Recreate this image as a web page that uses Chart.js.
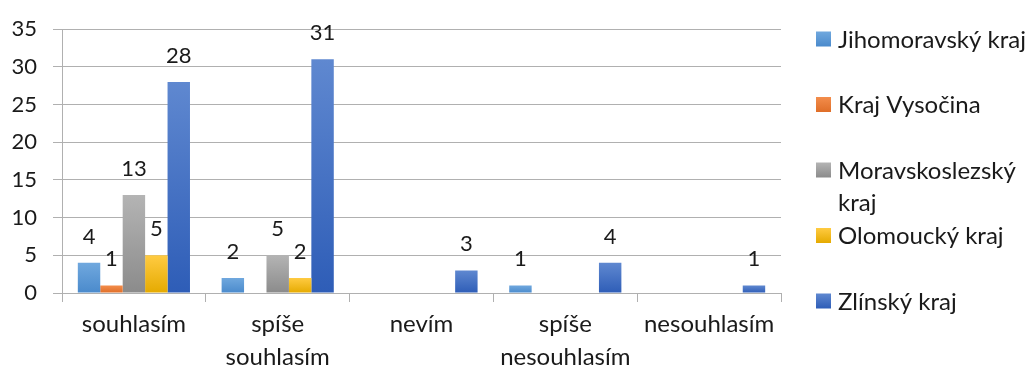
<!DOCTYPE html>
<html lang="cs">
<head>
<meta charset="utf-8">
<script src="https://cdn.jsdelivr.net/npm/chart.js@4/dist/chart.umd.min.js"></script>
<style>
  html, body { margin: 0; padding: 0; background: #fff; }
  #wrap { position: relative; width: 1031px; height: 369px; }
</style>
</head>
<body>
<div id="wrap"><canvas id="c" width="1031" height="369"></canvas></div>
<script>
// Odpovědi (kategorie na ose x)
const categories = [
  "souhlasím",
  ["spíše", "souhlasím"],
  "nevím",
  ["spíše", "nesouhlasím"],
  "nesouhlasím"
];

// Počty odpovědí podle krajů
const jihomoravsky    = [4, 2, 0, 1, 0];
const vysocina        = [1, 0, 0, 0, 0];
const moravskoslezsky = [13, 5, 0, 0, 0];
const olomoucky       = [5, 2, 0, 0, 0];
const zlinsky         = [28, 31, 3, 4, 1];

const seriesNames = [
  "Jihomoravský kraj",
  "Kraj Vysočina",
  "Moravskoslezský kraj",
  "Olomoucký kraj",
  "Zlínský kraj"
];
const seriesValues = [jihomoravsky, vysocina, moravskoslezsky, olomoucky, zlinsky];

// Barevné přechody sloupců (nahoře světlejší, dole tmavší)
const gradStops = [
  ["#70a8de", "#4a8acc"],
  ["#f38d4c", "#df6e28"],
  ["#b4b4b4", "#8b8b8b"],
  ["#ffcb42", "#e5aa00"],
  ["#5f88d0", "#2e5db7"]
];

const yTicks = { min: 0, max: 35, step: 5 };

const FONT = "Lato, 'Liberation Sans', sans-serif";
const TEXT = "#1a1a1a";
const GRID = "#b0b0b0";
const NUM_SIZE = 22;
const TXT_SIZE = 24;

function barGradient(ctx, i) {
  const chart = ctx.chart;
  const y = chart.scales && chart.scales.y;
  if (!y || ctx.type !== "data") return gradStops[i][1];
  const v = ctx.raw || 0;
  const top = y.getPixelForValue(v);
  const base = y.getPixelForValue(0);
  if (!isFinite(top) || !isFinite(base)) return gradStops[i][1];
  const g = chart.ctx.createLinearGradient(0, Math.min(top, base - 1), 0, base);
  g.addColorStop(0, gradStops[i][0]);
  g.addColorStop(1, gradStops[i][1]);
  return g;
}

const datasets = seriesNames.map((name, i) => ({
  label: name,
  data: seriesValues[i],
  backgroundColor: (ctx) => barGradient(ctx, i),
  borderWidth: 0,
  categoryPercentage: 0.78,
  barPercentage: 1.0
}));

// Hodnoty nad sloupci (nulové se nevypisují)
const valueLabels = {
  id: "valueLabels",
  afterDatasetsDraw(chart) {
    const ctx = chart.ctx;
    ctx.save();
    ctx.font = NUM_SIZE + "px " + FONT;
    ctx.fillStyle = TEXT;
    ctx.textAlign = "center";
    ctx.textBaseline = "alphabetic";
    chart.data.datasets.forEach((ds, di) => {
      const meta = chart.getDatasetMeta(di);
      meta.data.forEach((bar, idx) => {
        const v = ds.data[idx];
        if (!v) return;
        ctx.fillText(String(v), bar.x, bar.y - 19);
      });
    });
    ctx.restore();
  }
};

// Legenda vpravo se zalamováním dlouhých názvů
const sideLegend = {
  id: "sideLegend",
  afterDraw(chart) {
    const ctx = chart.ctx;
    const boxX = 816, box = 15, textX = 838, maxW = 192;
    const y0 = 39, step = 65.5, lineH = 32;
    ctx.save();
    ctx.font = TXT_SIZE + "px " + FONT;
    ctx.textAlign = "left";
    ctx.textBaseline = "middle";
    chart.data.datasets.forEach((ds, i) => {
      const cy = y0 + i * step;
      const g = ctx.createLinearGradient(0, cy - box / 2, 0, cy + box / 2);
      g.addColorStop(0, gradStops[i][0]);
      g.addColorStop(1, gradStops[i][1]);
      ctx.fillStyle = g;
      ctx.fillRect(boxX, cy - box / 2, box, box);
      // zalomení textu podle šířky
      const words = ds.label.split(" ");
      const lines = [];
      let cur = "";
      words.forEach(w => {
        const t = cur ? cur + " " + w : w;
        if (cur && ctx.measureText(t).width > maxW) { lines.push(cur); cur = w; }
        else cur = t;
      });
      if (cur) lines.push(cur);
      ctx.fillStyle = TEXT;
      lines.forEach((ln, k) => ctx.fillText(ln, textX, cy + 1 + k * lineH));
    });
    ctx.restore();
  }
};

new Chart(document.getElementById("c"), {
  type: "bar",
  data: { labels: categories, datasets },
  options: {
    responsive: false,
    animation: false,
    layout: { padding: { top: 26, right: 250, left: 0, bottom: 0 } },
    plugins: {
      legend: { display: false },
      tooltip: { enabled: false }
    },
    scales: {
      x: {
        afterFit: (s) => { s.height = 76; },
        grid: {
          offset: true,
          drawOnChartArea: false,
          drawTicks: true,
          tickLength: 9,
          color: GRID,
          lineWidth: 1
        },
        border: { display: true, color: GRID, width: 1 },
        ticks: {
          color: TEXT,
          padding: 5,
          maxRotation: 0,
          autoSkip: false,
          font: { family: FONT, size: TXT_SIZE, lineHeight: 1.4 }
        }
      },
      y: {
        min: yTicks.min,
        max: yTicks.max,
        afterFit: (s) => { s.width = 62; },
        grid: {
          color: GRID,
          lineWidth: 1,
          drawTicks: true,
          tickLength: 9
        },
        border: { display: true, color: GRID, width: 1 },
        ticks: {
          stepSize: yTicks.step,
          color: TEXT,
          padding: 16,
          font: { family: FONT, size: NUM_SIZE }
        }
      }
    }
  },
  plugins: [valueLabels, sideLegend]
});
</script>
</body>
</html>
